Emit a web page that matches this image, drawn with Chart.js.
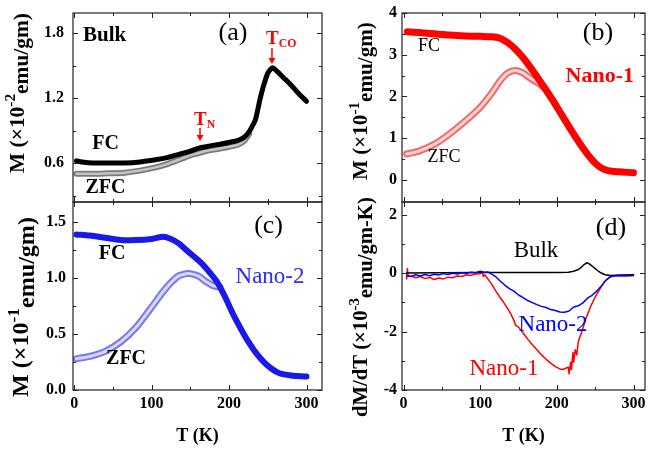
<!DOCTYPE html>
<html>
<head>
<meta charset="utf-8">
<script src="https://cdn.jsdelivr.net/npm/chart.js@4.4.1/dist/chart.umd.min.js"></script>
<style>
  body { margin: 0; background: #fff; }
  #wrap { position: relative; width: 648px; height: 450px; }
  canvas { position: absolute; }
</style>
</head>
<body>
<div id="wrap">
  <canvas id="pa" width="326" height="205" style="left:0;top:0"></canvas>
  <canvas id="pb" width="322" height="205" style="left:326px;top:0"></canvas>
  <canvas id="pc" width="326" height="251" style="left:0;top:199px"></canvas>
  <canvas id="pd" width="322" height="260" style="left:326px;top:190px"></canvas>
</div>
<script>
// tick values
const xTicks = [0, 100, 200, 300];
const xMinor = [50, 150, 250];
const aTicks = [0.6, 1.2, 1.8], aMinor = [0.3, 0.9, 1.5];
const bTicks = [0, 1, 2, 3, 4], bMinor = [0.5, 1.5, 2.5, 3.5];
const cTicks = [0, 0.5, 1.0, 1.5], cMinor = [0.25, 0.75, 1.25];
const dTicks = [-4, -2, 0, 2], dMinor = [-3, -1, 1];

// (a) bulk M(T)
const bulkFcT = [3, 10, 25, 45, 65, 85, 105, 120, 135, 150, 160, 170, 185, 200, 212, 220, 226, 230, 234, 237, 240, 244, 247, 250, 253, 256, 260, 270, 280, 290, 300];
const bulkFC  = [0.62, 0.61, 0.60, 0.60, 0.60, 0.61, 0.63, 0.65, 0.68, 0.71, 0.735, 0.75, 0.77, 0.79, 0.81, 0.84, 0.89, 0.94, 1.00, 1.09, 1.19, 1.30, 1.37, 1.43, 1.46, 1.48, 1.46, 1.39, 1.32, 1.24, 1.17];
const bulkZfcT = [3, 10, 25, 45, 65, 85, 105, 120, 135, 150, 160, 170, 185, 200, 212, 220, 226];
const bulkZFC  = [0.50, 0.50, 0.50, 0.505, 0.51, 0.53, 0.56, 0.59, 0.63, 0.67, 0.69, 0.71, 0.73, 0.75, 0.77, 0.81, 0.87];

// (b) Nano-1 M(T)
const n1FcT = [5, 20, 40, 60, 80, 100, 115, 125, 135, 145, 155, 165, 175, 185, 195, 205, 215, 225, 235, 245, 255, 265, 275, 285, 300];
const n1FC  = [3.55, 3.53, 3.50, 3.47, 3.45, 3.44, 3.43, 3.40, 3.30, 3.15, 2.95, 2.71, 2.45, 2.18, 1.90, 1.60, 1.30, 1.01, 0.74, 0.50, 0.32, 0.23, 0.20, 0.19, 0.17];
const n1ZfcT = [4, 20, 40, 60, 80, 100, 115, 125, 135, 145, 155, 165, 175, 185];
const n1ZFC  = [0.62, 0.69, 0.85, 1.10, 1.40, 1.74, 2.08, 2.35, 2.55, 2.62, 2.57, 2.44, 2.33, 2.18];

// (c) Nano-2 M(T)
const n2FcT = [3, 20, 40, 60, 80, 100, 115, 125, 135, 145, 155, 165, 175, 185, 195, 205, 215, 225, 235, 245, 255, 265, 280, 300];
const n2FC  = [1.39, 1.38, 1.36, 1.34, 1.34, 1.35, 1.37, 1.35, 1.31, 1.25, 1.19, 1.13, 1.05, 0.96, 0.83, 0.68, 0.55, 0.43, 0.33, 0.25, 0.19, 0.15, 0.13, 0.12];
const n2ZfcT = [3, 20, 40, 60, 80, 100, 115, 125, 135, 145, 150, 160, 170, 180, 188];
const n2ZFC  = [0.28, 0.30, 0.345, 0.43, 0.56, 0.74, 0.88, 0.96, 1.02, 1.04, 1.04, 1.02, 0.97, 0.93, 0.92];

// (d) dM/dT
const bulkdT = [4, 50, 100, 150, 200, 215, 222, 228, 232, 236, 239, 242, 246, 250, 254, 258, 263, 270, 285, 300];
const bulkdM = [0.0, 0.01, 0.02, 0.02, 0.02, 0.03, 0.06, 0.12, 0.20, 0.30, 0.35, 0.32, 0.24, 0.15, 0.07, 0.0, -0.06, -0.08, -0.07, -0.06];
const n2dT = [4, 10, 16, 22, 28, 34, 40, 46, 52, 58, 64, 70, 76, 82, 88, 94, 100, 105, 110, 115, 120, 126, 132, 138, 144, 150, 156, 162, 168, 174, 180, 186, 192, 198, 204, 210, 216, 222, 228, 234, 240, 246, 252, 258, 264, 270, 280, 290, 300];
const n2dM = [-0.08, -0.12, -0.06, -0.10, -0.05, -0.09, -0.04, -0.07, -0.02, -0.05,
              -0.01, -0.03, 0.01, -0.01, 0.03, 0.01, 0.06, 0.03, 0.04, -0.04,
              -0.12, -0.27, -0.41, -0.53, -0.62, -0.75, -0.84, -0.94, -1.01, -1.08,
              -1.14, -1.18, -1.25, -1.28, -1.33, -1.34, -1.30, -1.16, -1.12, -1.02,
              -0.86, -0.76, -0.62, -0.44, -0.25, -0.12, -0.08, -0.09, -0.08];
const n1dT = [4, 5, 6, 10, 16, 22, 28, 34, 40, 46, 52, 58, 64, 70, 76, 82, 88, 94, 100, 103, 104, 106, 110, 115, 120, 125, 130, 135, 140, 144, 146, 150, 156, 162, 168, 174, 180, 186, 192, 198, 204, 208, 212, 215, 216, 218, 219, 221, 222, 224, 226, 228, 232, 238, 244, 250, 256, 262, 268, 274, 280, 290, 300];
const n1dM = [-0.20, 0.15, -0.12, -0.10, -0.16, -0.12, -0.19, -0.15, -0.22, -0.17,
              -0.20, -0.14, -0.16, -0.10, -0.12, -0.06, -0.08, -0.03, -0.02, 0.05,
              -0.12, -0.06, -0.20, -0.38, -0.60, -0.80, -0.98, -1.18, -1.40, -1.62,
              -1.78, -1.85, -2.05, -2.26, -2.45, -2.62, -2.80, -2.95, -3.08, -3.20,
              -3.28, -3.30, -3.25, -3.22, -3.45, -3.05, -3.30, -2.72, -3.05, -2.62,
              -2.80, -2.35, -2.05, -1.55, -1.15, -0.82, -0.55, -0.30, -0.15, -0.09,
              -0.08, -0.09, -0.08];

const RED = '#ff0000', BLUE = '#1a1ae8';
const FONT = '"Liberation Serif", "Times New Roman", serif';
Chart.defaults.font.family = FONT;
Chart.defaults.color = '#000';

function pts(xs, ys) {
  return xs.map((t, i) => ({ x: t, y: ys[i] }));
}

function line(xs, ys, color, width, order, smooth) {
  return {
    data: pts(xs, ys),
    borderColor: color,
    borderWidth: width,
    pointRadius: 0,
    order: order,
    fill: false,
    tension: smooth ? 0.3 : 0,
    borderCapStyle: 'round',
    borderJoinStyle: 'round'
  };
}

// kill the automatic label padding so the plot boxes land where we want
function noPad(s) {
  s.paddingTop = 0; s.paddingBottom = 0; s.paddingLeft = 0; s.paddingRight = 0;
}

// frame, inward ticks, labels, arrows, rotated y title
const deco = {
  id: 'deco',
  afterDatasetsDraw(chart, args, o) {
    const { ctx, chartArea: a, scales: { x, y } } = chart;
    ctx.save();
    ctx.strokeStyle = '#222';
    ctx.lineWidth = 1.2;
    ctx.strokeRect(a.left, a.top, a.right - a.left, a.bottom - a.top);

    const xt = (vals, len) => vals.forEach(v => {
      const p = Math.round(x.getPixelForValue(v)) + 0.5;
      ctx.beginPath();
      ctx.moveTo(p, a.bottom); ctx.lineTo(p, a.bottom - len);
      ctx.moveTo(p, a.top); ctx.lineTo(p, a.top + len);
      ctx.stroke();
    });
    const yt = (vals, len) => vals.forEach(v => {
      const p = Math.round(y.getPixelForValue(v)) + 0.5;
      ctx.beginPath();
      ctx.moveTo(a.left, p); ctx.lineTo(a.left + len, p);
      ctx.moveTo(a.right, p); ctx.lineTo(a.right - len, p);
      ctx.stroke();
    });
    ctx.lineWidth = 1;
    xt(xTicks, 5); xt(xMinor, 3);
    yt(o.yTicks, 5); yt(o.yMinor, 3);

    ctx.textBaseline = 'middle';
    (o.labels || []).forEach(l => {
      const f = (s) => (l.bold ? 'bold ' : '') + s + 'px ' + FONT;
      ctx.fillStyle = l.color || '#000';
      ctx.font = f(l.size);
      const w1 = ctx.measureText(l.t).width;
      let w2 = 0;
      if (l.sub) { ctx.font = f(l.size * 0.62); w2 = ctx.measureText(l.sub).width; }
      let px = x.getPixelForValue(l.x);
      const py = y.getPixelForValue(l.y);
      if (l.align !== 'left') px -= (w1 + w2) / 2;
      ctx.textAlign = 'left';
      ctx.font = f(l.size);
      ctx.fillText(l.t, px, py);
      if (l.sub) {
        ctx.font = f(l.size * 0.62);
        ctx.fillText(l.sub, px + w1, py + l.size * 0.28);
      }
    });

    (o.arrows || []).forEach(ar => {
      const px = x.getPixelForValue(ar.x);
      const y1 = y.getPixelForValue(ar.y1), y2 = y.getPixelForValue(ar.y2);
      ctx.strokeStyle = ar.color; ctx.fillStyle = ar.color;
      ctx.lineWidth = 1.5;
      ctx.beginPath(); ctx.moveTo(px, y1); ctx.lineTo(px, y2 - 5); ctx.stroke();
      ctx.beginPath(); ctx.moveTo(px - 3.5, y2 - 6); ctx.lineTo(px + 3.5, y2 - 6); ctx.lineTo(px, y2); ctx.closePath(); ctx.fill();
    });

    const t = o.title;
    if (t) {
      ctx.save();
      ctx.translate(t.x, t.y);
      ctx.rotate(-Math.PI / 2);
      ctx.fillStyle = '#000';
      ctx.textAlign = 'left';
      const measure = (size) => t.parts.reduce((s, p) => {
        ctx.font = 'bold ' + (size * p[2]) + 'px ' + FONT;
        return s + ctx.measureText(p[0]).width;
      }, 0);
      const size = 18 * t.len / measure(18);
      let cx = -t.len / 2;
      t.parts.forEach(p => {
        ctx.font = 'bold ' + (size * p[2]) + 'px ' + FONT;
        ctx.fillText(p[0], cx, p[1] * size);
        cx += ctx.measureText(p[0]).width;
      });
      ctx.restore();
    }
    ctx.restore();
  }
};

function panel(id, c) {
  return new Chart(id, {
    type: 'line',
    data: { datasets: c.datasets },
    options: {
      responsive: false,
      animation: false,
      layout: { padding: c.pad },
      plugins: {
        legend: { display: false },
        tooltip: { enabled: false },
        deco: c.deco
      },
      scales: {
        x: {
          type: 'linear', min: c.xMin, max: c.xMax, display: c.showX,
          afterBuildTicks: s => { s.ticks = xTicks.map(v => ({ value: v })); },
          afterFit: s => { if (c.showX) s.height = 60; noPad(s); },
          grid: { display: false, drawTicks: false },
          border: { display: false },
          ticks: { autoSkip: false, maxRotation: 0, padding: 4, color: '#000', font: { size: 16, weight: 'bold' } },
          title: { display: true, text: 'T (K)', color: '#000', font: { size: 18, weight: 'bold' }, padding: { top: 4, bottom: 3 } }
        },
        y: {
          type: 'linear', min: c.yMin, max: c.yMax,
          afterBuildTicks: s => { s.ticks = c.deco.yTicks.map(v => ({ value: v })); },
          afterFit: s => { s.width = c.yWidth; noPad(s); },
          grid: { display: false, drawTicks: false },
          border: { display: false },
          ticks: { autoSkip: false, padding: c.tickPad, color: '#000', font: { size: 16, weight: 'bold' }, callback: c.fmt }
        }
      }
    },
    plugins: [deco]
  });
}

const fix1 = v => v.toFixed(1);
const plain = v => String(v);

// (a) Bulk
panel('pa', {
  xMin: -1.5, xMax: 320, yMin: 0.24, yMax: 1.985, showX: false,
  pad: { top: 13, right: 4, bottom: 3, left: 0 }, yWidth: 73, tickPad: 9, fmt: fix1,
  datasets: [
    line(bulkFcT, bulkFC, '#000', 5, 1, true),
    line(bulkZfcT, bulkZFC, '#c4c4c4', 2.5, 2, true),
    line(bulkZfcT, bulkZFC, '#7a7a7a', 6, 3, true)
  ],
  deco: {
    yTicks: aTicks, yMinor: aMinor,
    title: { x: 18, y: 93, len: 160, parts: [['M (\u00d710', 0, 1], ['-2', -0.33, 0.72], ['emu/gm)', 0.22, 1]] },
    labels: [
      { t: 'Bulk', x: 11.4, y: 1.78, size: 21, bold: true, align: 'left' },
      { t: '(a)', x: 205, y: 1.80, size: 26 },
      { t: 'T', sub: 'CO', x: 247.7, y: 1.745, size: 19, bold: true, color: RED, align: 'left' },
      { t: 'T', sub: 'N', x: 154.7, y: 0.997, size: 19, bold: true, color: RED, align: 'left' },
      { t: 'FC', x: 40.5, y: 0.776, size: 20, bold: true },
      { t: 'ZFC', x: 40.5, y: 0.37, size: 20, bold: true }
    ],
    arrows: [
      { x: 255.4, y1: 1.662, y2: 1.514, color: RED },
      { x: 162.5, y1: 0.923, y2: 0.803, color: RED }
    ]
  }
});

// (b) Nano-1
panel('pb', {
  xMin: -2, xMax: 315, yMin: -0.53, yMax: 4.0, showX: false,
  pad: { top: 13, right: 3, bottom: 3, left: 0 }, yWidth: 76, tickPad: 5, fmt: plain,
  datasets: [
    line(n1FcT, n1FC, RED, 7, 1, true),
    line(n1ZfcT, n1ZFC, '#ffd2d2', 3, 2, true),
    line(n1ZfcT, n1ZFC, '#f06a6a', 7, 3, true)
  ],
  deco: {
    yTicks: bTicks, yMinor: bMinor,
    title: { x: 36, y: 101, len: 158, parts: [['M (\u00d710', 0, 1], ['-1', -0.33, 0.72], ['emu/gm)', 0.22, 1]] },
    labels: [
      { t: '(b)', x: 253.7, y: 3.52, size: 26 },
      { t: 'Nano-1', x: 256, y: 2.49, size: 22, bold: true, color: RED },
      { t: 'FC', x: 33.2, y: 3.21, size: 18 },
      { t: 'ZFC', x: 52.8, y: 0.55, size: 18 }
    ]
  }
});

// (c) Nano-2
panel('pc', {
  xMin: -1.5, xMax: 320, yMin: 0, yMax: 1.68, showX: true,
  pad: { top: 3, right: 4, bottom: 0, left: 0 }, yWidth: 73, tickPad: 7, fmt: fix1,
  datasets: [
    line(n2FcT, n2FC, BLUE, 6, 1, true),
    line(n2ZfcT, n2ZFC, '#d8d8ff', 3, 2, true),
    line(n2ZfcT, n2ZFC, '#7878f0', 7, 3, true)
  ],
  deco: {
    yTicks: cTicks, yMinor: cMinor,
    title: { x: 22, y: 108, len: 180, parts: [['M (\u00d710', 0, 1], ['-1', -0.33, 0.72], ['emu/gm)', 0.22, 1]] },
    labels: [
      { t: '(c)', x: 251, y: 1.46, size: 26 },
      { t: 'FC', x: 48.9, y: 1.215, size: 20, bold: true },
      { t: 'ZFC', x: 67, y: 0.277, size: 20, bold: true },
      { t: 'Nano-2', x: 252.9, y: 1.01, size: 23, color: '#2a2aff' }
    ]
  }
});

// (d) dM/dT
panel('pd', {
  xMin: -2, xMax: 315, yMin: -4, yMax: 2.43, showX: true,
  pad: { top: 12, right: 3, bottom: 0, left: 0 }, yWidth: 76, tickPad: 5, fmt: plain,
  datasets: [
    line(n2dT, n2dM, '#0000ff', 1.5, 1, false),
    line(bulkdT, bulkdM, '#000', 1.5, 2, false),
    line(n1dT, n1dM, RED, 1.5, 3, false)
  ],
  deco: {
    yTicks: dTicks, yMinor: dMinor,
    title: { x: 36, y: 117, len: 220, parts: [['dM/dT (\u00d710', 0, 1], ['-3', -0.33, 0.72], ['emu/gm-K)', 0.22, 1]] },
    labels: [
      { t: '(d)', x: 270.6, y: 1.54, size: 26 },
      { t: 'Bulk', x: 172.8, y: 0.754, size: 23 },
      { t: 'Nano-2', x: 195, y: -1.78, size: 23, color: '#0000ff' },
      { t: 'Nano-1', x: 131, y: -3.28, size: 23, color: RED }
    ]
  }
});
</script>
</body>
</html>
